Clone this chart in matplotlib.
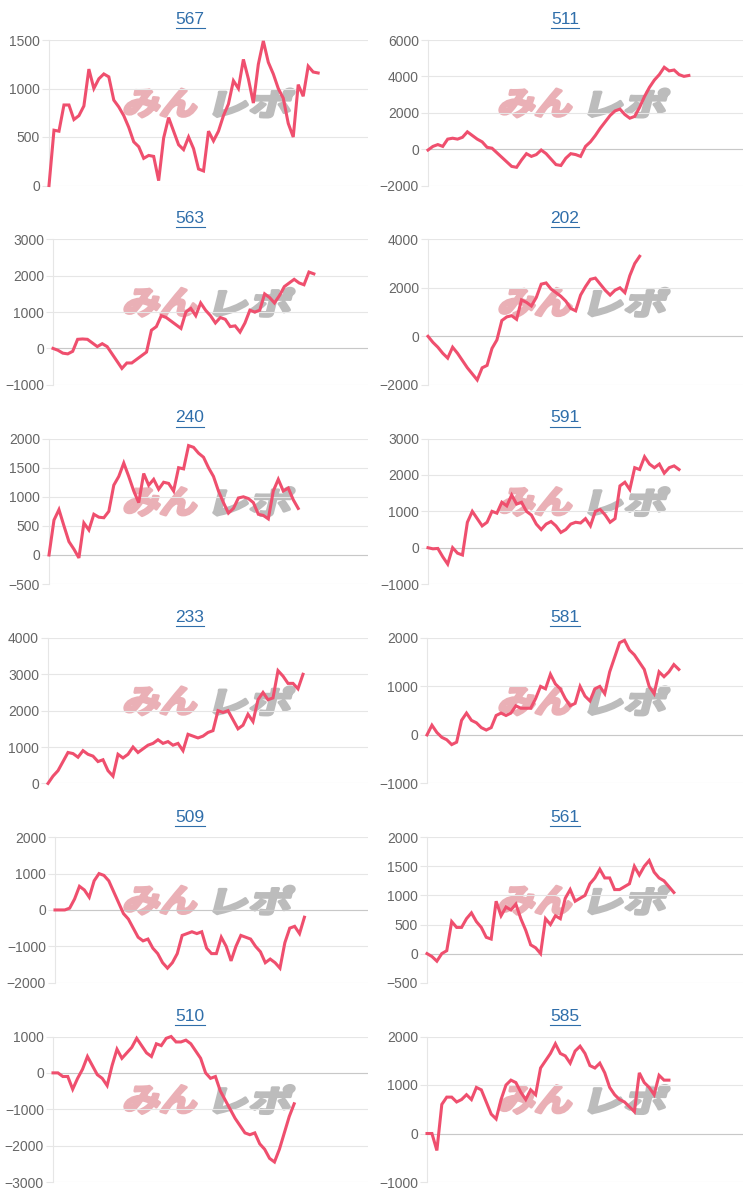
import matplotlib
matplotlib.use("Agg")
import matplotlib.pyplot as plt
from matplotlib.textpath import TextPath
from matplotlib.font_manager import FontProperties
from matplotlib.patches import PathPatch
from matplotlib.lines import Line2D
from matplotlib.transforms import Affine2D
import numpy as np

titles = ["567", "511", "563", "202", "240", "591", "233", "581", "509", "561", "510", "585"]

s567 = [0, 570, 560, 830, 830, 680, 720, 820, 1200, 1000, 1100, 1150, 1120, 880, 810, 720, 600, 450, 400, 280,
        310, 300, 50, 490, 700, 560, 420, 370, 500, 380, 170, 150, 560, 460, 560, 720, 840, 1080, 1000, 1300,
        1100, 850, 1250, 1490, 1270, 1150, 1000, 900, 640, 500, 1040, 920, 1230, 1170, 1160]
s511 = [-50, 150, 250, 150, 550, 600, 550, 650, 950, 750, 550, 400, 100, 50, -200, -450, -700, -950, -1000, -600,
        -250, -400, -300, -50, -250, -550, -850, -900, -500, -250, -300, -400, 150, 400, 750, 1150, 1500, 1850, 2100, 2200,
        1900, 1700, 1800, 2300, 2900, 3400, 3800, 4100, 4500, 4300, 4350, 4100, 4000, 4050]
s563 = [0, -50, -130, -150, -80, 250, 260, 250, 150, 50, 130, 50, -150, -350, -550, -400, -400, -300, -200, -100,
        500, 600, 900, 850, 750, 650, 550, 1000, 1100, 900, 1250, 1050, 900, 700, 850, 800, 600, 620, 450, 700,
        1050, 1000, 1050, 1500, 1400, 1250, 1450, 1700, 1800, 1900, 1800, 1750, 2100, 2050]
s202 = [0, -250, -450, -700, -900, -450, -700, -1000, -1300, -1550, -1800, -1300, -1200, -500, -150, 650, 800, 850, 700, 1500,
        1400, 1250, 1600, 2150, 2200, 1950, 1800, 1650, 1450, 1150, 1050, 1700, 2050, 2350, 2400, 2150, 1900, 1700, 1900, 2000,
        1800, 2500, 3000, 3300]
s240 = [0, 600, 780, 500, 230, 100, -50, 550, 430, 700, 650, 640, 750, 1200, 1350, 1580, 1350, 1100, 900, 1400,
        1200, 1300, 1130, 1250, 1230, 1100, 1500, 1480, 1880, 1850, 1750, 1680, 1500, 1350, 1100, 900, 720, 800, 980, 1000,
        970, 900, 700, 680, 620, 1100, 1300, 1100, 1150, 950, 800]
s591 = [0, -30, -20, -250, -450, 0, -150, -200, 700, 1000, 800, 600, 700, 1000, 950, 1250, 1150, 1450, 1200, 1250,
        1000, 900, 650, 500, 650, 720, 600, 420, 500, 650, 700, 680, 800, 600, 1000, 1050, 900, 700, 800, 1700,
        1800, 1600, 2200, 2150, 2500, 2300, 2200, 2300, 2050, 2200, 2250, 2150]
s233 = [0, 200, 350, 600, 850, 820, 720, 900, 800, 750, 600, 650, 350, 200, 800, 700, 800, 1000, 850, 950,
        1050, 1100, 1200, 1100, 1150, 1050, 1100, 900, 1350, 1300, 1250, 1300, 1400, 1450, 2000, 1950, 2000, 1750, 1500, 1600,
        1900, 1700, 2300, 2500, 2300, 2350, 3100, 2950, 2750, 2750, 2600, 3000]
s581 = [0, 200, 50, -50, -100, -200, -150, 300, 450, 300, 250, 150, 100, 150, 400, 450, 400, 450, 600, 550,
        550, 550, 750, 1000, 950, 1250, 1050, 950, 750, 600, 650, 1000, 800, 700, 950, 1000, 850, 1300, 1600, 1900,
        1950, 1750, 1650, 1500, 1350, 1000, 850, 1300, 1200, 1300, 1450, 1350]
s509 = [0, 0, 0, 50, 300, 650, 550, 350, 800, 1000, 950, 800, 500, 200, -100, -250, -500, -750, -850, -800,
        -1050, -1200, -1450, -1600, -1450, -1200, -700, -650, -600, -650, -600, -1050, -1200, -1200, -750, -1000, -1400, -1000, -700, -750,
        -800, -1000, -1150, -1450, -1350, -1450, -1600, -900, -500, -450, -650, -200]
s561 = [0, -50, -130, 0, 50, 550, 450, 450, 600, 700, 550, 450, 280, 250, 900, 650, 800, 750, 850, 600,
        400, 150, 100, 0, 600, 500, 650, 600, 950, 1100, 900, 950, 1000, 1200, 1300, 1450, 1300, 1300, 1100, 1100,
        1150, 1200, 1500, 1350, 1500, 1600, 1400, 1300, 1250, 1150, 1050]
s510 = [0, 0, -100, -100, -450, -150, 100, 450, 200, -50, -150, -350, 200, 650, 400, 550, 700, 950, 750, 550,
        450, 800, 750, 950, 1000, 850, 850, 900, 800, 600, 400, 0, -150, -100, -500, -750, -1000, -1250, -1450, -1650,
        -1700, -1650, -1950, -2100, -2350, -2450, -2100, -1650, -1200, -850]
s585 = [0, 0, -350, 600, 750, 750, 650, 700, 800, 700, 950, 900, 650, 400, 300, 700, 1000, 1100, 1050, 850,
        700, 900, 800, 1350, 1500, 1650, 1850, 1650, 1600, 1450, 1700, 1800, 1650, 1400, 1350, 1450, 1250, 950, 800, 700,
        650, 550, 450, 1250, 1050, 950, 800, 1200, 1100, 1100]

series = [s567, s511, s563, s202, s240, s591, s233, s581, s509, s561, s510, s585]

# y axis range and tick step of each chart
y_min = [0, -2000, -1000, -2000, -500, -1000, 0, -1000, -2000, -500, -3000, -1000]
y_max = [1500, 6000, 3000, 4000, 2000, 3000, 4000, 2000, 2000, 2000, 1000, 2000]
y_step = [500, 2000, 1000, 2000, 500, 1000, 1000, 1000, 1000, 500, 1000, 1000]

n_slots = 64  # length of the x axis

plt.rcParams["font.family"] = ["Liberation Sans", "DejaVu Sans"]

W, H = 750, 1195
fig = plt.figure(figsize=(7.5, 11.95), dpi=100)
fig.patch.set_facecolor("white")
px = Affine2D().scale(1.0 / W, 1.0 / H) + fig.transFigure  # pixels, origin bottom left

# left edge of each plot area (pixels), depends on tick label width
ax_left = [49, 428, 53, 428, 49, 428, 48, 427, 55, 427, 53, 427]

line_col = "#ef4f6e"
grid_col = "#e6e6e6"
title_col = "#2f6eaa"
fp_wm = FontProperties(family="Noto Sans CJK JP", weight="bold")


def watermark(x, y):
    # "みん" pink + "レポ" grey, slanted, behind the chart
    parts = [("みん", "#eab0b6", x + 1, 71), ("レポ", "#bcbcbc", x + 91, 75)]
    for txt, col, x0, w in parts:
        p = TextPath((0, 0), txt, size=100, prop=fp_wm)
        b = p.get_extents()
        tr = Affine2D().translate(-b.x0, -b.y0).scale(w / b.width, 28.0 / b.height).skew_deg(14, 0).translate(x0, y + 1)
        patch = PathPatch(tr.transform_path(p), facecolor=col, edgecolor=col, lw=2.2,
                          joinstyle="round", transform=px, zorder=-1)
        fig.add_artist(patch)


renderer = fig.canvas.get_renderer()

for k in range(12):
    r, c = k // 2, k % 2
    top = 40 + 199.3 * r
    bottom = top + 145.5
    left = ax_left[k]
    right = 368 + 375 * c
    ax = fig.add_axes([left / W, 1 - bottom / H, (right - left) / W, (bottom - top) / H])
    ax.set_facecolor("none")

    s = series[k]
    ax.plot(range(len(s)), s, color=line_col, lw=2.2, solid_joinstyle="miter", clip_on=False, zorder=3)

    ax.set_xlim(0, n_slots)
    ax.set_ylim(y_min[k], y_max[k])
    ax.set_yticks(np.arange(y_min[k], y_max[k] + 1, y_step[k]))
    ax.set_xticks([])
    ax.yaxis.grid(True, color=grid_col, lw=0.8)
    ax.set_axisbelow(True)
    if y_min[k] < 0:
        ax.axhline(0, color="#c8c8c8", lw=0.8, zorder=1)
    for sp in ["top", "right", "bottom"]:
        ax.spines[sp].set_visible(False)
    ax.spines["left"].set_color(grid_col)
    ax.spines["left"].set_linewidth(0.8)
    ax.tick_params(axis="y", length=5, width=0.8, color=grid_col, pad=1.5, labelsize=10, labelcolor="#666666")

    watermark(122 + 375 * c, H - (top + 78))

    # title, underlined like a link
    ty = 19 + 199.5 * r
    cx = 190 + 375 * c
    t = fig.text(cx / W, 1 - ty / H, titles[k], ha="center", va="center", color=title_col, fontsize=12.5)
    bb = t.get_window_extent(renderer=renderer)
    fig.add_artist(Line2D([bb.x0, bb.x1], [bb.y0 - 1, bb.y0 - 1], color=title_col, lw=0.8, transform=px))

plt.savefig("out.png", dpi=100, facecolor="white")
